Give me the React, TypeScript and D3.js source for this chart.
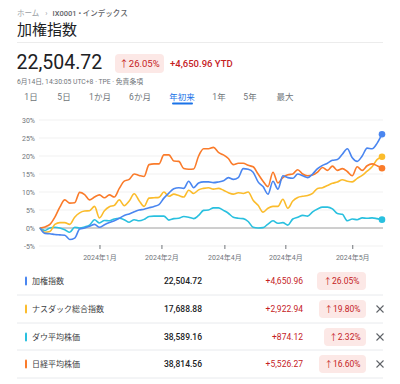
import React from "react";
import * as d3 from "d3";

const W = 400;
const H = 384;

const seriesNames = ["加権指数", "ナスダック総合指数", "ダウ平均株価", "日経平均株価"];
const seriesColors = ["#4a86f0", "#fbbc2c", "#29c0df", "#fa7b2a"];
const prices = ["22,504.72", "17,688.88", "38,589.16", "38,814.56"];
const changes = ["+4,650.96", "+2,922.94", "+874.12", "+5,526.27"];
const pcts = ["26.05%", "19.80%", "2.32%", "16.60%"];

const taiex = [0, -1.5, -1.6, -1.8, -1.9, -2.0, -3.2, -2.8, -0.3, 0, 0.5, 1.0, 0.2, 0.9, 1.5, 2.0, 2.7, 3.5, 3.9, 4.5,
  5.0, 5.2, 5.6, 6.0, 6.5, 8.3, 9.7, 10.9, 11.2, 11.0, 13.0, 11.2, 12.5, 12.8, 12.8, 12.6, 12.8, 13.1, 14.0, 13.5,
  14.0, 16.5, 16.3, 15.5, 12.8, 11.5, 9.4, 13.0, 10.8, 14.5, 14.0, 13.8, 15.0, 14.5, 14.0, 15.0, 16.5, 17.4, 18.0, 18.8,
  19.0, 20.5, 22.0, 19.5, 18.5, 20.0, 22.2, 22.0, 23.5, 26.05];
const nasdaq = [0, -1.2, -1.0, 1.0, 1.5, 1.5, 1.0, 3.0, 4.2, 4.7, 4.8, 6.0, 2.8, 4.8, 5.9, 6.3, 7.8, 6.2, 7.5, 9.5,
  7.6, 6.0, 8.3, 8.4, 8.5, 10.0, 8.8, 9.4, 9.0, 8.6, 10.5, 9.6, 10.6, 11.0, 11.2, 10.8, 11.0, 10.5, 9.8, 9.4,
  9.8, 9.6, 10.0, 7.7, 6.3, 4.4, 5.5, 6.0, 6.0, 8.0, 5.5, 7.5, 8.5, 8.8, 9.0, 9.6, 11.0, 11.2, 11.8, 12.4,
  12.8, 13.4, 13.0, 12.8, 13.8, 14.6, 15.8, 17.0, 19.0, 19.8];
const dow = [0, -0.7, 0, 0.2, 0, -0.5, -1.2, 0.2, 0, 0.3, 0.8, 2.3, 1.4, 2.1, 2.0, 2.5, 2.7, 2.3, 1.6, 2.3,
  2.0, 2.4, 3.2, 3.3, 3.3, 3.3, 2.2, 2.6, 2.7, 3.2, 3.0, 2.6, 3.5, 4.9, 5.0, 5.6, 5.6, 4.9, 4.1, 3.0,
  2.7, 2.6, 1.8, 0.2, 0, 0.1, 1.1, 2.0, 1.3, 1.5, 0.8, 2.5, 3.0, 3.5, 3.3, 4.5, 5.3, 5.8, 5.8, 5.3,
  4.0, 3.8, 2.0, 2.5, 2.3, 2.8, 2.7, 2.8, 2.6, 2.32];
const nikkei = [0, 0.3, 1.0, 3.0, 5.8, 7.8, 6.9, 7.0, 9.9, 9.3, 7.8, 8.6, 9.2, 8.4, 9.2, 8.6, 11.0, 13.0, 13.5, 15.0,
  14.6, 14.3, 17.6, 17.8, 17.8, 20.3, 20.3, 18.6, 18.5, 16.5, 16.3, 16.4, 20.0, 22.0, 22.0, 22.4, 21.0, 20.3, 19.3, 17.6,
  18.0, 18.0, 17.4, 17.0, 15.0, 13.0, 11.5, 15.5, 12.5, 14.0, 14.8, 15.0, 16.2, 15.0, 14.5, 14.7, 15.5, 16.8, 16.0, 17.2,
  16.0, 16.5, 15.7, 14.5, 17.0, 16.0, 17.3, 17.8, 17.3, 16.6];

const yTicks = [-5, 0, 5, 10, 15, 20, 25, 30];
const xTickIdx = [12.1, 24.6, 37.3, 49.6, 63.1];
const xTickLabels = ["2024年1月", "2024年2月", "2024年4月", "2024年4月", "2024年5月"];
const tabs = ["1日", "5日", "1か月", "6か月", "年初来", "1年", "5年", "最大"];
const tabX = [31, 64, 100, 140, 182, 219, 250, 285];

const FONT = "Roboto, 'Noto Sans CJK JP', sans-serif";

export default function App() {
  const all = [taiex, nasdaq, dow, nikkei];
  const x = d3.scaleLinear().domain([0, taiex.length - 1]).range([40, 382]);
  const y = d3.scaleLinear().domain([-5, 30]).range([246, 120]);
  const line = d3
    .line<number>()
    .x((_, i) => x(i))
    .y((d) => y(d))
    .curve(d3.curveMonotoneX);
  const drawOrder = [2, 1, 3, 0];
  const rowY = [281, 309, 337, 364];
  const sepY = [295, 323, 350, 378];
  const badgeW = [49, 47, 42, 47];

  return (
    <svg
      width={W}
      height={H}
      style={{ position: "absolute", left: 0, top: 0, background: "#fff" }}
      fontFamily={FONT}
    >
      {/* breadcrumb */}
      <text x={17} y={15.5} fontSize={7.5} fill="#9aa0a6">
        ホーム
        <tspan dx={6}>›</tspan>
        <tspan dx={5} fill="#5f6368" fontWeight={500}>IX0001 • インデックス</tspan>
      </text>
      <text x={17} y={34.5} fontSize={15} fill="#202124">加権指数</text>
      <line x1={17} x2={383} y1={42.5} y2={42.5} stroke="#ececec" />

      <text x={16.5} y={69} fontSize={19.5} fill="#202124">22,504.72</text>
      <rect x={115} y={54} width={49} height={19} rx={4} fill="#fce8e6" />
      <text x={139.5} y={67} fontSize={9.5} fill="#c5221f" textAnchor="middle">↑26.05%</text>
      <text x={170} y={67} fontSize={9.5} fill="#c5221f" fontWeight={500}>+4,650.96 YTD</text>
      <text x={17} y={83.5} fontSize={6.8} fill="#70757a">6月14日, 14:30:05 UTC+8 · TPE · 免責条項</text>

      {tabs.map((t, i) => (
        <text
          key={t}
          x={tabX[i]}
          y={99.5}
          fontSize={8.5}
          textAnchor="middle"
          fill={i === 4 ? "#1a73e8" : "#70757a"}
        >
          {t}
        </text>
      ))}
      <rect x={172} y={102.5} width={21} height={2} rx={1} fill="#1a73e8" />

      {/* grid */}
      {yTicks.map((t) => (
        <g key={t}>
          <line
            x1={39}
            x2={383}
            y1={y(t)}
            y2={y(t)}
            stroke={t === 0 ? "#9e9e9e" : "#f1f1f1"}
            strokeWidth={1}
          />
          <text x={35} y={y(t) + 2.5} fontSize={7} fill="#70757a" textAnchor="end">
            {t}%
          </text>
        </g>
      ))}
      {xTickIdx.map((t, i) => (
        <g key={i}>
          <line x1={x(t)} x2={x(t)} y1={245} y2={249} stroke="#70757a" strokeWidth={1} />
          <text x={x(t)} y={260} fontSize={7} fill="#70757a" textAnchor="middle">
            {xTickLabels[i]}
          </text>
        </g>
      ))}

      {drawOrder.map((k) => (
        <path key={k} d={line(all[k]) || ""} fill="none" stroke={seriesColors[k]} strokeWidth={1.6} />
      ))}
      {drawOrder.map((k) => (
        <circle
          key={"c" + k}
          cx={x(all[k].length - 1)}
          cy={y(all[k][all[k].length - 1])}
          r={3.3}
          fill={seriesColors[k]}
        />
      ))}

      {/* table */}
      {seriesNames.map((n, i) => (
        <g key={n}>
          <rect x={25} y={rowY[i] - 4.5} width={2} height={9} rx={1} fill={seriesColors[i]} />
          <text x={32} y={rowY[i] + 3} fontSize={8} fill="#3c4043">{n}</text>
          <text x={202} y={rowY[i] + 3} fontSize={8.5} fill="#202124" fontWeight={500} textAnchor="end">
            {prices[i]}
          </text>
          <text x={303} y={rowY[i] + 3} fontSize={8.5} fill="#c5221f" textAnchor="end">
            {changes[i]}
          </text>
          <rect x={366 - badgeW[i]} y={rowY[i] - 9} width={badgeW[i]} height={18} rx={4} fill="#fce8e6" />
          <text x={366 - badgeW[i] / 2} y={rowY[i] + 3} fontSize={8.5} fill="#c5221f" textAnchor="middle">
            ↑{pcts[i]}
          </text>
          {i > 0 && (
            <g stroke="#5f6368" strokeWidth={1.1}>
              <line x1={376.5} x2={383.5} y1={rowY[i] - 3.5} y2={rowY[i] + 3.5} />
              <line x1={376.5} x2={383.5} y1={rowY[i] + 3.5} y2={rowY[i] - 3.5} />
            </g>
          )}
          <line x1={17} x2={383} y1={sepY[i]} y2={sepY[i]} stroke="#e8eaed" />
        </g>
      ))}
    </svg>
  );
}
